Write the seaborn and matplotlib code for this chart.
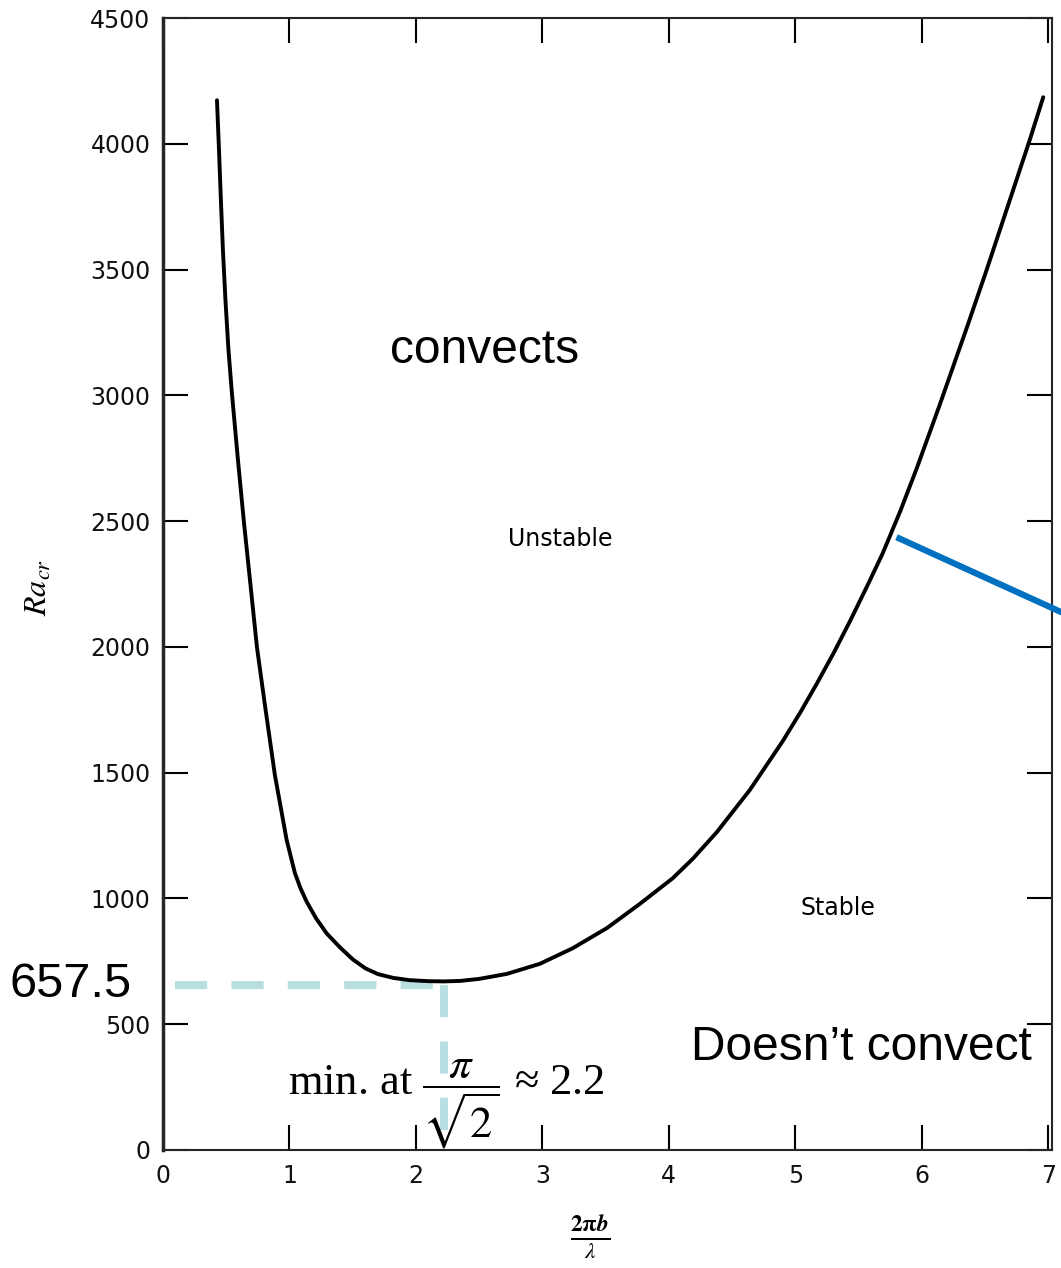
import numpy as np
import pandas as pd
import matplotlib
matplotlib.use("Agg")
import matplotlib.pyplot as plt
import seaborn as sns

# critical Rayleigh number curve
wavenumber = [0.427, 0.443, 0.458, 0.474, 0.494, 0.518, 0.545, 0.593, 0.640, 0.692,
              0.743, 0.806, 0.885, 0.978, 1.043, 1.087, 1.136, 1.209, 1.294, 1.40,
              1.50, 1.60, 1.70, 1.82, 1.95, 2.10, 2.22, 2.35, 2.50, 2.72, 2.98, 3.24,
              3.51, 3.77, 4.03, 4.19, 4.38, 4.64, 4.90, 5.04, 5.17, 5.30, 5.43,
              5.57, 5.69, 5.83, 5.96, 6.14, 6.36, 6.51, 6.85, 6.96]
ra_cr = [4173, 3975, 3776, 3577, 3378, 3180, 3009, 2742, 2496, 2246,
         1999, 1769, 1490, 1232, 1101, 1041, 987, 922, 861, 805,
         758, 722, 699, 684, 675, 671, 670, 672, 680, 700, 740, 802,
         882, 978, 1080, 1158, 1264, 1431, 1625, 1740, 1854, 1973, 2100,
         2244, 2371, 2540, 2710, 2960, 3275, 3495, 4010, 4185]

x_ticks = [0, 1, 2, 3, 4, 5, 6, 7]
y_ticks = [0, 500, 1000, 1500, 2000, 2500, 3000, 3500, 4000, 4500]

ra_min = 657.5
k_min = 2.22

# blue pointer line (runs off the right edge)
pointer_x = [5.80, 7.40]
pointer_y = [2436, 2070]

df = pd.DataFrame({"k": wavenumber, "ra": ra_cr})

sns.set_style("ticks")
plt.rcParams["font.family"] = ["DejaVu Sans"]
plt.rcParams["mathtext.fontset"] = "stix"
plt.rcParams["text.color"] = "black"

fig = plt.figure(figsize=(10.61, 12.68), dpi=100)
ax = fig.add_axes([0.1536, 0.0931, 0.838, 0.8927])

# dashed guide lines at the minimum
guide = "#b7dee0"
ax.plot([0.095, k_min], [ra_min, ra_min], color=guide, lw=5.8,
        dashes=(4, 3), dash_capstyle="butt", zorder=1)
ax.plot([k_min, k_min], [ra_min, 0], color=guide, lw=5.8,
        dashes=(4, 3), dash_capstyle="butt", zorder=1)

sns.lineplot(data=df, x="k", y="ra", ax=ax, color="black", lw=2.8,
             estimator=None, sort=False, zorder=3)

ax.plot(pointer_x, pointer_y, color="#0070c0", lw=4.5, clip_on=False,
        solid_capstyle="butt", zorder=4)

ax.set_xlim(0, 7.03)
ax.set_ylim(0, 4500)
ax.set_xticks(x_ticks)
ax.set_yticks(y_ticks)
ax.tick_params(direction="in", length=18, width=1.5, top=True, right=True,
               labelsize=17, pad=10, colors="black", labelcolor="#111111")
ax.tick_params(axis="y", pad=9)

for side in ["top", "right", "bottom"]:
    ax.spines[side].set_visible(True)
    ax.spines[side].set_linewidth(1.5)
ax.spines["left"].set_linewidth(2.5)

ax.set_xlabel("")
ax.set_ylabel("")
fig.text(0.036, 0.537, r"$Ra_{cr}$", rotation=90, fontsize=23,
         ha="center", va="center")
fig.text(0.556, 0.025, r"$\frac{\mathbf{2\pi}\boldsymbol{b}}{\lambda}$", fontsize=24,
         ha="center", va="center")

# region labels
ax.text(2.54, 3180, "convects", fontsize=34.5, family="Liberation Sans",
        ha="center", va="center")
ax.text(3.14, 2428, "Unstable", fontsize=17, ha="center", va="center")
ax.text(5.34, 962, "Stable", fontsize=17, ha="center", va="center")
ax.text(5.52, 409, "Doesn\u2019t convect", fontsize=34.5, family="Liberation Sans",
        ha="center", va="center", clip_on=False)
ax.text(-1.21, ra_min, "657.5", fontsize=35, family="Liberation Sans",
        ha="left", va="center", clip_on=False)
ax.text(2.245, 180, r"min. at $\dfrac{\pi}{\sqrt{2}}$ ≈ 2.2", fontsize=32,
        family="Liberation Serif", ha="center", va="center")

fig.savefig("out.png", dpi=100, facecolor="white")
